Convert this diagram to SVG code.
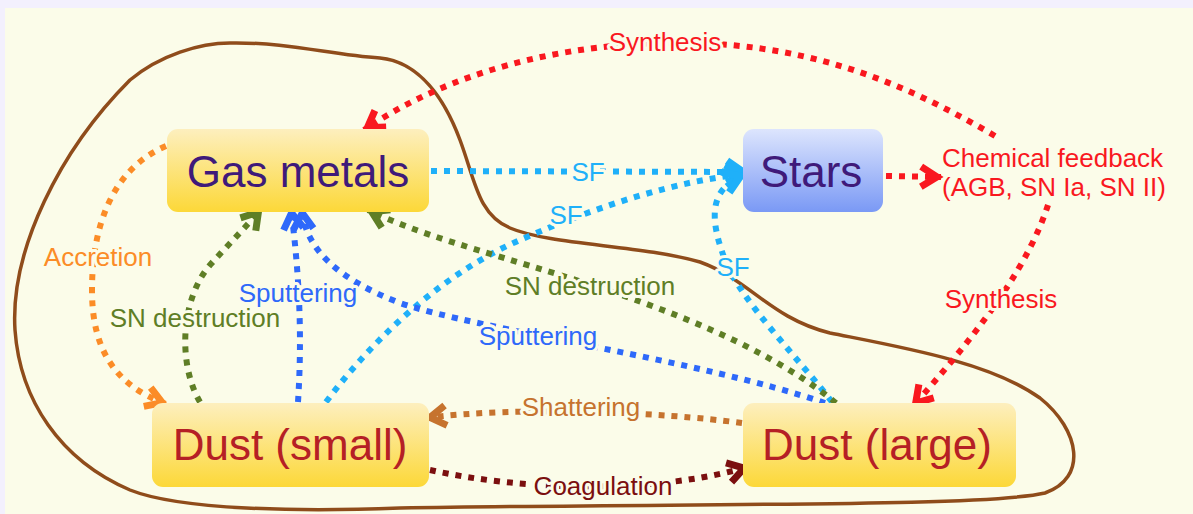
<svg xmlns="http://www.w3.org/2000/svg" width="1193" height="514" viewBox="0 0 1193 514">
<defs>
<linearGradient id="gy" x1="0" y1="0" x2="0" y2="1"><stop offset="0" stop-color="#fdefbe"/><stop offset="1" stop-color="#fcd838"/></linearGradient>
<linearGradient id="gb" x1="0" y1="0" x2="0" y2="1"><stop offset="0" stop-color="#dde5fd"/><stop offset="1" stop-color="#7a99f5"/></linearGradient>
<marker id="m-red" markerUnits="userSpaceOnUse" viewBox="-26 -16 30 32" markerWidth="30" markerHeight="32" refX="0" refY="0" orient="auto" overflow="visible"><path d="M-20,-10 L-4,0 L-20,10" fill="none" stroke="#f9181f" stroke-width="7"/></marker>
<marker id="m-sky" markerUnits="userSpaceOnUse" viewBox="-26 -16 30 32" markerWidth="30" markerHeight="32" refX="0" refY="0" orient="auto" overflow="visible"><path d="M-20,-11 L-4,0 L-20,11" fill="none" stroke="#1fb0f9" stroke-width="7.5"/></marker>
<marker id="m-blue" markerUnits="userSpaceOnUse" viewBox="-26 -16 30 32" markerWidth="30" markerHeight="32" refX="0" refY="0" orient="auto" overflow="visible"><path d="M-20,-10 L-4,0 L-20,10" fill="none" stroke="#2e69fa" stroke-width="7"/></marker>
<marker id="m-green" markerUnits="userSpaceOnUse" viewBox="-26 -16 30 32" markerWidth="30" markerHeight="32" refX="0" refY="0" orient="auto" overflow="visible"><path d="M-20,-10 L-4,0 L-20,10" fill="none" stroke="#5f7e26" stroke-width="7"/></marker>
<marker id="m-orange" markerUnits="userSpaceOnUse" viewBox="-26 -16 30 32" markerWidth="30" markerHeight="32" refX="0" refY="0" orient="auto" overflow="visible"><path d="M-20,-10 L-4,0 L-20,10" fill="none" stroke="#fb8c27" stroke-width="7"/></marker>
<marker id="m-shat" markerUnits="userSpaceOnUse" viewBox="-26 -16 30 32" markerWidth="30" markerHeight="32" refX="0" refY="0" orient="auto" overflow="visible"><path d="M-20,-10 L-4,0 L-20,10" fill="none" stroke="#c6732e" stroke-width="7"/></marker>
<marker id="m-coag" markerUnits="userSpaceOnUse" viewBox="-26 -16 30 32" markerWidth="30" markerHeight="32" refX="0" refY="0" orient="auto" overflow="visible"><path d="M-20,-10 L-4,0 L-20,10" fill="none" stroke="#7b0f0f" stroke-width="7"/></marker>
</defs>
<style>
.c{fill:none;stroke-width:6;stroke-dasharray:6 7}
.red{stroke:#f9181f}.sky{stroke:#1fb0f9}.blue{stroke:#2e69fa}.green{stroke:#5f7e26}.orange{stroke:#fb8c27}.shat{stroke:#c6732e}.coag{stroke:#7b0f0f}
.lb{font-family:"Liberation Sans",Arial,sans-serif;font-size:26px;text-anchor:middle;stroke:#fbfce9;stroke-width:6;paint-order:stroke;stroke-linejoin:round}
.nt{font-family:"Liberation Sans",Arial,sans-serif;font-size:44px;text-anchor:middle}
</style>
<rect x="0" y="0" width="1193" height="514" fill="#f3f0fd"/>
<rect x="5" y="8" width="1188" height="506" fill="#fbfce9"/>
<path id="region" d="M230,43 C290,42 330,55 380,58 C420,62 445,100 460,140 C475,180 478,215 510,228 C550,245 640,245 700,262 C750,280 770,318 830,333 C900,347 990,362 1040,398 C1080,430 1088,478 1045,493 C985,507 700,503 400,508 C300,512 180,510 130,490 C60,460 20,400 15,330 C10,250 60,150 130,80 C160,55 200,43 230,43 Z" fill="none" stroke="#8f4c1b" stroke-width="3.5"/>
<g id="connectors">
<path class="c red" d="M995,136 C900,80 800,40 665,43 C530,46 430,85 364,130" marker-end="url(#m-red)"/>
<path class="c red" d="M886,176 L941,177" marker-end="url(#m-red)"/>
<path class="c red" d="M1048,205 C1030,260 990,320 913,406" marker-end="url(#m-red)"/>
<path class="c sky" d="M431,171 L747,172" marker-end="url(#m-sky)"/>
<path class="c sky" d="M326,402 C380,330 450,270 520,240 C600,205 680,180 746,174" marker-end="url(#m-sky)"/>
<path class="c sky" d="M832,402 C800,360 740,300 725,260 C712,225 705,190 744,175" marker-end="url(#m-sky)"/>
<path class="c orange" d="M166,146 C110,170 92,230 92,290 C92,350 115,385 166,404" marker-end="url(#m-orange)"/>
<path class="c green" d="M200,402 C178,365 180,300 210,265 C228,245 245,228 261,209" marker-end="url(#m-green)"/>
<path class="c blue" d="M298,402 C302,340 300,280 291,209" marker-end="url(#m-blue)"/>
<path class="c blue" d="M825,403 C700,360 480,330 400,303 C340,280 305,250 302,209" marker-end="url(#m-blue)"/>
<path class="c green" d="M836,403 C760,340 640,300 560,275 C480,250 420,235 368,210" marker-end="url(#m-green)"/>
<path class="c shat" d="M742,423 C660,412 520,406 426,418" marker-end="url(#m-shat)"/>
<path class="c coag" d="M430,470 C520,490 650,495 748,467" marker-end="url(#m-coag)"/>
</g>
<g id="labels">
<text class="lb" x="665" y="51" fill="#f9181f">Synthesis</text>
<text class="lb" x="1001" y="308" fill="#f9181f">Synthesis</text>
<text class="lb" x="588" y="181" fill="#1fb0f9">SF</text>
<text class="lb" x="566" y="224" fill="#1fb0f9">SF</text>
<text class="lb" x="733" y="276" fill="#1fb0f9">SF</text>
<text class="lb" x="98" y="266" fill="#fb8c27">Accretion</text>
<text class="lb" x="195" y="327" fill="#5f7e26">SN destruction</text>
<text class="lb" x="298" y="302" fill="#2e69fa">Sputtering</text>
<text class="lb" x="590" y="295" fill="#5f7e26">SN destruction</text>
<text class="lb" x="538" y="345" fill="#2e69fa">Sputtering</text>
<text class="lb" x="581" y="416" fill="#c6732e">Shattering</text>
<text class="lb" x="603" y="495" fill="#7b0f0f">Coagulation</text>
</g>
<g id="chem">
<text class="lb" x="942" y="167" fill="#f9181f" style="text-anchor:start">Chemical feedback</text>
<text class="lb" x="942" y="196" fill="#f9181f" style="text-anchor:start">(AGB, SN Ia, SN II)</text>
</g>
<g id="gas"><rect x="167" y="129" width="262" height="83" rx="11" fill="url(#gy)"/><text class="nt" x="298" y="187" fill="#3f1a7a">Gas metals</text></g>
<g id="stars"><rect x="743" y="129" width="140" height="83" rx="11" fill="url(#gb)"/><text class="nt" x="811" y="187" fill="#3f1a7a">Stars</text></g>
<g id="dsmall"><rect x="152" y="403" width="277" height="84" rx="11" fill="url(#gy)"/><text class="nt" x="290" y="460" fill="#b52025">Dust (small)</text></g>
<g id="dlarge"><rect x="743" y="403" width="273" height="84" rx="11" fill="url(#gy)"/><text class="nt" x="877" y="460" fill="#b52025">Dust (large)</text></g>
</svg>
